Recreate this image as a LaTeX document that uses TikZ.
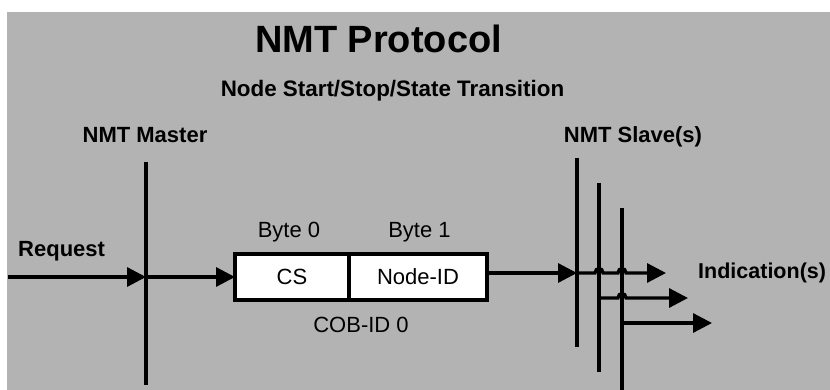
\documentclass[tikz,border=0pt]{standalone}
\usepackage{fontspec}
\setmainfont{Liberation Sans}
\usetikzlibrary{arrows.meta}
\definecolor{bg}{HTML}{B3B3B3}
\begin{document}
\begin{tikzpicture}[x=1pt,y=-1pt,
  wire/.style={line width=3.2pt},
  arr/.style={wire,-{Triangle[length=19pt,width=19pt]}},
  lbl/.style={font=\fontsize{22}{26}\selectfont\bfseries, inner sep=0pt, anchor=base},
  txt/.style={font=\fontsize{22}{26}\selectfont, inner sep=0pt, anchor=base},
  cell/.style={draw, line width=3.2pt, fill=white, minimum height=46pt, inner sep=0pt, outer sep=0pt,
               anchor=north west, font=\fontsize{22}{26}\selectfont}
]
\useasboundingbox (0,0) rectangle (830,390);
\fill[bg] (7,12) rectangle (830,390);

% titles
\node[font=\fontsize{38}{44}\selectfont\bfseries, inner sep=0pt, anchor=base] (title) at (378.5,53) {NMT Protocol};
\node[font=\fontsize{22.4}{26}\selectfont\bfseries, inner sep=0pt, anchor=base] (sub) at (392.5,97) {Node Start/Stop/State Transition};
\node[lbl] (master) at (145,143) {NMT Master};
\node[lbl] (slave) at (633,143) {NMT Slave(s)};
\node[lbl, anchor=base west] (req) at (18,257) {Request};
\node[font=\fontsize{21.5}{26}\selectfont\bfseries, inner sep=0pt, anchor=base west] (ind) at (698,278) {Indication(s)};

% frame
\node[cell, minimum width=114pt] (cs) at (235,254) {CS};
\node[cell, minimum width=138pt] (nid) at (349,254) {Node-ID};
\node[txt] (b0) at (289,238) {Byte 0};
\node[txt] (b1) at (419.5,238) {Byte 1};
\node[txt] (cob) at (361,332) {COB-ID 0};

% master line
\coordinate (m1) at (146,162);
\coordinate (m2) at (146,385);
\draw[wire] (m1) -- (m2);
\coordinate (rq) at (8,277);
\draw[arr] (rq) -- (rq -| m1);
\draw[arr] (rq -| m1) -- (cs.west);

% slave lines
\coordinate (s1t) at (577,158); \coordinate (s1b) at (577,347);
\coordinate (s2t) at (599,183); \coordinate (s2b) at (599,372);
\coordinate (s3t) at (622,208); \coordinate (s3b) at (622,390);
\draw[wire] (s1t) -- (s1b);
\draw[wire] (s2t) -- (s2b);
\draw[wire] (s3t) -- (s3b);

\coordinate (i1) at (666,273);
\coordinate (i2) at (688,298);
\coordinate (i3) at (712,323);

\draw[arr] ([yshift=4pt]nid.east) -- (s1t |- i1);
\draw[arr] (s1t |- i1) -- ([xshift=-4pt]s2t |- i1)
   .. controls +(0,-6) and +(0,-6) .. ([xshift=4pt]s2t |- i1)
   -- ([xshift=-4pt]s3t |- i1)
   .. controls +(0,-6) and +(0,-6) .. ([xshift=4pt]s3t |- i1)
   -- (i1);
\draw[arr] (s2t |- i2) -- ([xshift=-4pt]s3t |- i2)
   .. controls +(0,-6) and +(0,-6) .. ([xshift=4pt]s3t |- i2)
   -- (i2);
\draw[arr] (s3t |- i3) -- (i3);
\end{tikzpicture}
\end{document}
